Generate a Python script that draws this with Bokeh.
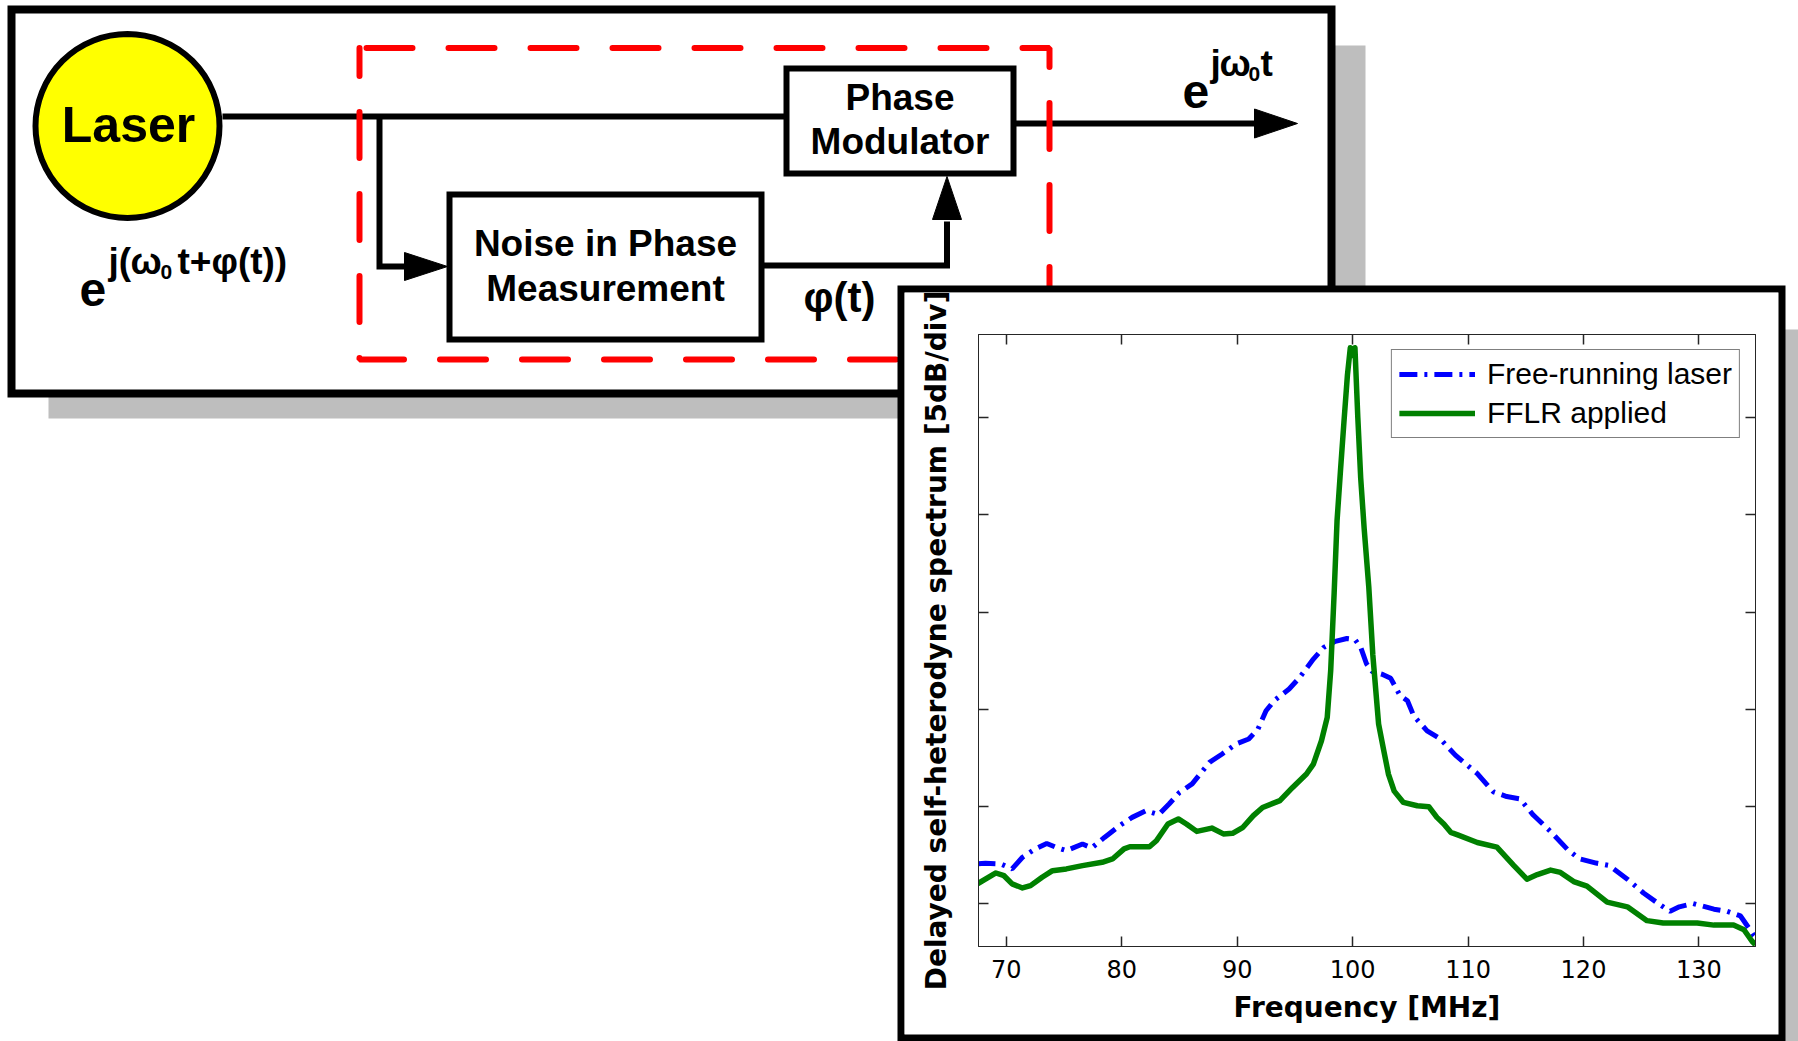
from bokeh.plotting import figure
from bokeh.models import Range1d, FixedTicker, LinearAxis, GridBox
from bokeh.core.properties import value
from bokeh.embed import file_html
from bokeh.resources import INLINE

# ---------------- chart data ----------------
x_ticks = [70, 80, 90, 100, 110, 120, 130]          # MHz
y_ticks = [0, 5, 10, 15, 20, 25]                     # 5 dB/div, unlabeled

free_mhz = [67.5, 68.2, 69.5, 70.5, 71.4, 72.5, 73.5, 74.3, 75.2, 76.6,
            77.4, 78.5, 79.8, 80.9, 82.1, 83.2, 84.1, 85.0, 86.1, 87.6,
            88.7, 89.9, 91.0, 91.8, 92.5, 93.2, 94.5, 95.4, 96.6, 97.5,
            98.5, 99.5, 100.2, 100.7, 101.2, 101.7, 102.6, 103.3, 104.1, 104.75,
            105.3, 106.45, 107.6, 108.9, 110.8, 112.2, 113.35, 114.5, 115.65, 117.1,
            118.6, 119.6, 121.1, 122.2, 123.8, 125.2, 126.6, 127.5, 128.3, 129.5,
            131.3, 132.45, 133.6, 134.7, 134.9]
free_db = [2.06, 2.09, 2.06, 1.80, 2.40, 2.83, 3.11, 2.91, 2.74, 3.08,
           2.88, 3.42, 4.02, 4.45, 4.79, 4.59, 5.14, 5.73, 6.17, 7.28,
           7.71, 8.22, 8.48, 8.99, 9.93, 10.45, 11.05, 11.64, 12.59, 13.19,
           13.50, 13.65, 13.60, 13.19, 12.35, 11.95, 11.80, 11.60, 10.72, 10.45,
           9.66, 8.90, 8.48, 7.65, 6.70, 5.76, 5.52, 5.40, 4.57, 3.75,
           2.81, 2.33, 2.10, 1.98, 1.27, 0.56, -0.03, -0.38, -0.15, 0.02,
           -0.27, -0.38, -0.62, -1.57, -1.70]

fflr_mhz = [67.5, 69.1, 69.8, 70.5, 71.4, 72.1, 73.1, 74.0, 75.2, 76.6,
            78.3, 79.2, 80.2, 80.7, 82.4, 83.0, 84.0, 84.9, 85.6, 86.5,
            87.8, 88.8, 89.6, 90.5, 91.4, 92.2, 93.7, 94.8, 96.0, 96.6,
            97.3, 97.8, 98.1, 98.4, 98.65, 98.95, 99.25, 99.55, 99.8, 100.0,
            100.2, 100.45, 100.7, 101.0, 101.4, 101.75, 102.25, 102.7, 103.1, 103.6,
            104.4, 105.6, 106.6, 107.3, 107.9, 108.5, 109.1, 110.8, 112.5, 113.95,
            115.1, 116.0, 117.15, 118.0, 119.15, 120.3, 122.05, 123.8, 125.5, 126.9,
            129.85, 131.3, 133.0, 133.9, 134.6, 134.9]
fflr_db = [1.03, 1.59, 1.45, 1.03, 0.82, 0.94, 1.37, 1.71, 1.80, 1.97,
           2.14, 2.31, 2.83, 2.94, 2.94, 3.25, 4.11, 4.37, 4.11, 3.73,
           3.90, 3.60, 3.63, 3.94, 4.54, 4.96, 5.31, 5.99, 6.68, 7.19,
           8.39, 9.59, 12.0, 16.0, 19.7, 22.3, 24.8, 27.2, 28.6, 28.2,
           28.6, 25.0, 21.9, 19.3, 16.3, 12.8, 9.25, 7.88, 6.68, 5.80,
           5.22, 5.05, 5.00, 4.45, 4.11, 3.68, 3.55, 3.16, 2.92, 1.98,
           1.27, 1.51, 1.74, 1.62, 1.15, 0.91, 0.09, -0.15, -0.86, -0.98,
           -0.98, -1.09, -1.09, -1.33, -1.92, -2.10]

series_labels = ["Free-running laser", "FFLR applied"]
x_title = "Frequency [MHz]"
y_title = "Delayed self-heterodyne spectrum [5dB/div]"

# ---------------- block diagram (page-pixel layout) ----------------
FONT = "Liberation Sans"
W, H = 1798, 1041
diag = figure(width=W, height=H, x_range=Range1d(0, W), y_range=Range1d(H, 0),
              x_axis_type=None, y_axis_type=None, toolbar_location=None, title=None,
              output_backend="svg", min_border=0, outline_line_color=None,
              background_fill_color="white", border_fill_color="white",
              frame_align=False)

SHADOW = "#BEBEBE"
# diagram panel shadow + panel
diag.quad(left=48, right=1365, top=45, bottom=418, fill_color=SHADOW, line_color=None)
diag.quad(left=11, right=1331, top=9, bottom=393, fill_color="white",
          line_color="black", line_width=8, line_join="miter")

BL = dict(line_color="black", line_width=6, line_join="miter")
# signal paths
diag.line([222, 786], [116, 116], **BL)
diag.line([379, 379, 406], [116, 266, 266], **BL)
diag.patch([404, 447, 404], [252, 266, 280], color="black")
diag.line([1013, 1256], [123, 123], **BL)
diag.patch([1254, 1297, 1254], [108.5, 123, 137.5], color="black")
diag.line([761, 946.5, 946.5], [265, 265, 221], **BL)
diag.patch([932, 946.5, 961], [219, 176, 219], color="black")

# blocks
diag.quad(left=449, right=761, top=194, bottom=339, fill_color="white", **BL)
diag.quad(left=786, right=1013, top=68, bottom=173, fill_color="white", **BL)
diag.circle(x=127, y=125.5, radius=92, fill_color="#FFFF00", line_color="black", line_width=6)

# red dashed enclosure
diag.line([359, 1049, 1049, 359, 359], [47.5, 47.5, 359, 359, 47.5],
          line_color="#FF0000", line_width=6, line_dash="46 36",
          line_dash_offset=-7, line_cap="round")

TB = dict(text_font=value(FONT), text_font_style="bold", text_color="black",
          text_baseline="alphabetic")
diag.text(x=[128], y=[124.5], text=["Laser"], text_font_size="50px", text_align="center", **TB)
diag.text(x=[605, 605, 899.5, 899.5], y=[242.8, 287.8, 96.8, 140.8],
          text=["Noise in Phase", "Measurement", "Phase", "Modulator"],
          text_font_size="37px", text_align="center", **TB)
diag.text(x=[803], y=[297.1], text=["φ(t)"], text_font_size="42px", text_align="left", **TB)
# e^{j(w0 t + phi(t))} and e^{j w0 t}
diag.text(x=[79, 1182], y=[289.2, 91.2], text=["e", "e"], text_font_size="48px",
          text_align="left", **TB)
diag.text(x=[108, 130, 177, 1210, 1219, 1260], y=[260.8, 260.8, 260.8, 62.8, 62.8, 62.8],
          text=["j(", "ω", "t+φ(t))", "j", "ω", "t"], text_font_size="37px",
          text_align="left", **TB)
diag.text(x=[160, 1248], y=[271.1, 73.1], text=["0", "0"], text_font_size="21px",
          text_align="left", **TB)

# inset panel (shadow + white box)
diag.quad(left=940, right=1800, top=329, bottom=1100, fill_color=SHADOW, line_color=None)
diag.quad(left=900.5, right=1781.5, top=288.5, bottom=1037.5, fill_color="white",
          line_color="black", line_width=7, line_join="miter")

# ---------------- spectrum chart ----------------
CW, CH = 874, 742
chart = figure(width=CW, height=CH, x_range=Range1d(67.59, 134.9), y_range=Range1d(-2.19, 29.28),
               output_backend="svg", toolbar_location=None, title=None,
               min_border_left=74, min_border_right=23, min_border_top=42, min_border_bottom=88,
               background_fill_color="white", border_fill_color="white",
               outline_line_color="#262626", outline_line_width=1,
               frame_align=False)
chart.grid.visible = False
xa = chart.below[0]
ya = chart.left[0]

chart.line(free_mhz, free_db, line_color="#0000FF", line_width=5, line_dash="18 7 3 7",
           legend_label=series_labels[0])
chart.line(fflr_mhz, fflr_db, line_color="#008000", line_width=5.5, line_join="round",
           legend_label=series_labels[1])

top_ax = LinearAxis(axis_label=None)
right_ax = LinearAxis(axis_label=None)
chart.add_layout(top_ax, "above")
chart.add_layout(right_ax, "right")

for ax, ticks in [(xa, x_ticks), (top_ax, x_ticks), (ya, y_ticks), (right_ax, y_ticks)]:
    ax.ticker = FixedTicker(ticks=ticks, minor_ticks=[])
    ax.major_tick_in = 10
    ax.major_tick_out = 0
    ax.minor_tick_line_color = None
    ax.axis_line_color = "#262626"
    ax.major_tick_line_color = "#262626"
    ax.major_tick_line_width = 1.5

# unlabeled ticks: labels are not drawn at all
for ax in [top_ax, right_ax, ya]:
    ax.major_label_text_font_size = "1px"
    ax.major_label_text_color = None
    ax.major_label_standoff = 0

xa.major_label_text_font = "DejaVu Sans"
xa.major_label_text_font_size = "24px"
xa.major_label_text_color = "black"
xa.major_label_standoff = 13
xa.axis_label = x_title
xa.axis_label_text_font = "DejaVu Sans"
xa.axis_label_text_font_style = "bold"
xa.axis_label_text_font_size = "28px"
xa.axis_label_text_color = "black"
xa.axis_label_standoff = 10

ya.axis_label = y_title
ya.axis_label_text_font = "DejaVu Sans"
ya.axis_label_text_font_style = "bold"
ya.axis_label_text_font_size = "28px"
ya.axis_label_text_color = "black"
ya.axis_label_standoff = 26

lg = chart.legend[0]
lg.location = "top_right"
lg.margin = 15
lg.padding = 7
lg.spacing = 5
lg.glyph_width = 76
lg.glyph_height = 34
lg.label_height = 34
lg.label_standoff = 12
lg.label_text_font = FONT
lg.label_text_font_size = "30px"
lg.label_text_color = "black"
lg.border_line_color = "black"
lg.border_line_width = 1.5
lg.background_fill_alpha = 1.0

# overlay: both in the same grid cell, chart shifted onto the inset box
chart.margin = (292, 0, 0, 904)
page = GridBox(children=[(diag, 0, 0), (chart, 0, 0)])

open("out.html", "w").write(file_html(page, INLINE, title="Laser phase noise cancellation"))
